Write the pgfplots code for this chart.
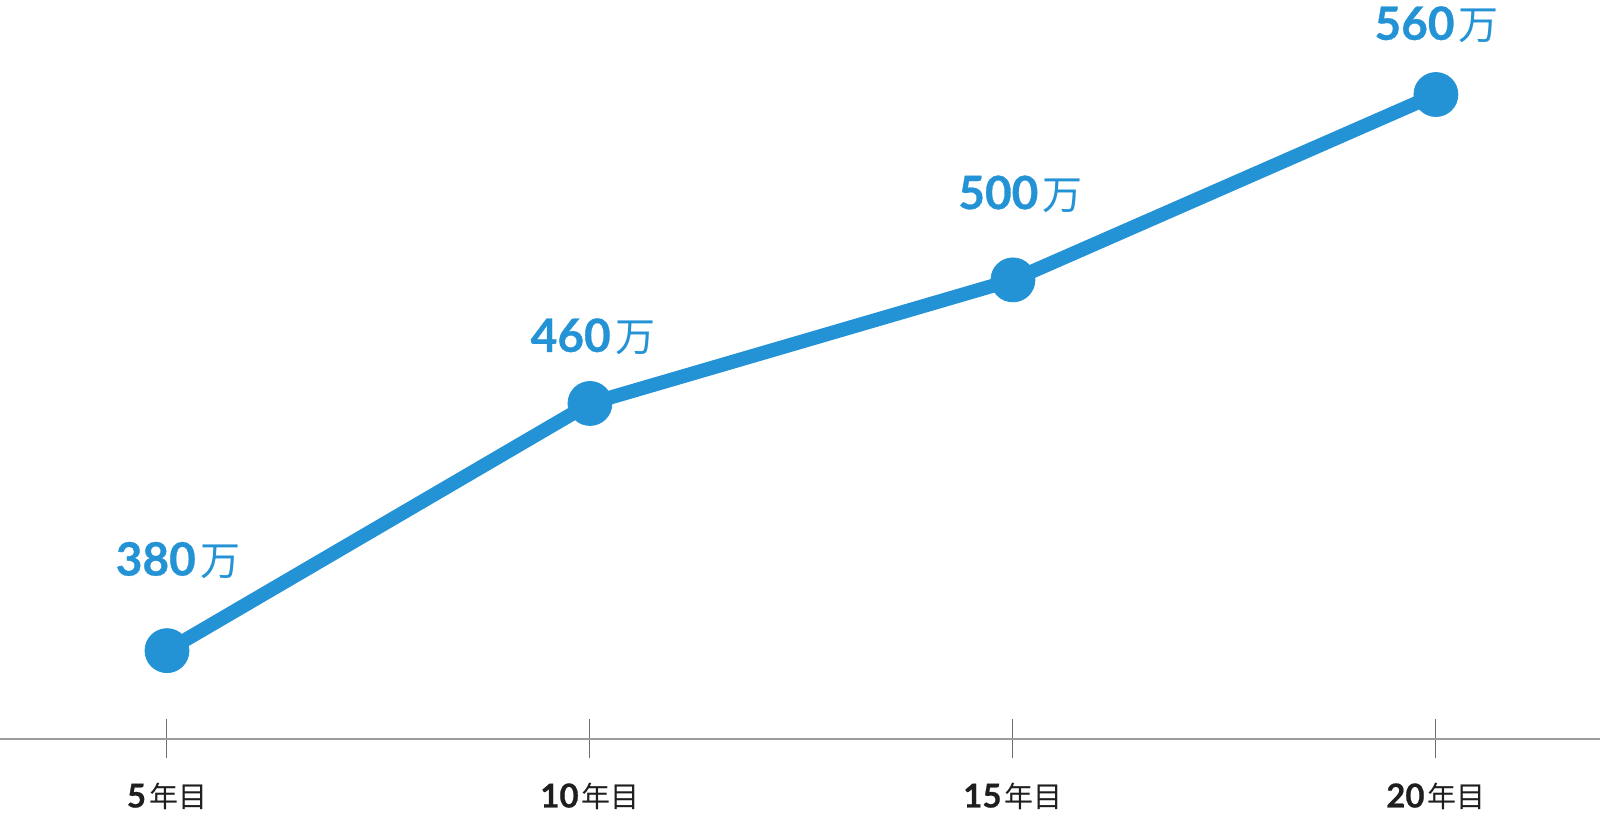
\documentclass[border=0pt]{standalone}
\usepackage{fontspec}
\setmainfont{Lato}
\newfontfamily\numheavy{Lato}[BoldFeatures={FakeBold=0.6}]
\newfontfamily\cjk{Noto Sans CJK JP}
\usepackage{pgfplots}
\pgfplotsset{compat=1.18}
\definecolor{lineblue}{HTML}{2393D6}
\definecolor{axisgray}{HTML}{9C9C9C}
\definecolor{tickgray}{HTML}{6E6E6E}
\definecolor{labeldark}{HTML}{1E1E1E}

% value label: bold number + 万
\newcommand{\man}[1]{{\numheavy\fontsize{23}{23}\selectfont\bfseries #1}\hspace{0.22em}{\cjk\fontsize{20}{20}\selectfont 万}}
\newcommand{\nen}[1]{{\numheavy\fontsize{16.5}{16.5}\selectfont\bfseries #1}\hspace{0.15em}{\cjk\fontsize{14.5}{14.5}\selectfont 年目}}

\begin{document}
\begin{tikzpicture}
\begin{axis}[
  scale only axis,
  width=800pt, height=369.5pt,
  xmin=3.026, xmax=21.94,
  ymin=351.4, ymax=590.6,
  axis x line*=bottom,
  hide y axis,
  axis line style={draw=axisgray, line width=0.85pt, -},
  xtick={5,10,15,20},
  xticklabels={\nen{5},\nen{10},\nen{15},\nen{20}},
  xticklabel style={anchor=base, yshift=-24.5pt, text=labeldark},
  major tick length=19.5pt,
  tick align=center,
  tick style={draw=tickgray, line width=0.5pt},
  clip=false,
]
\addplot[lineblue, line width=7pt, mark=*, mark size=11pt,
  mark options={fill=lineblue, draw=lineblue, line width=0.4pt}]
  coordinates {(5,380) (10,460) (15,500) (20,560)};

\node[anchor=base, text=lineblue, inner sep=0pt] at (axis cs:5.13,404.3) {\man{380}};
\node[anchor=base, text=lineblue, inner sep=0pt] at (axis cs:10.035,476.7) {\man{460}};
\node[anchor=base, text=lineblue, inner sep=0pt] at (axis cs:15.09,522.9) {\man{500}};
\node[anchor=base, text=lineblue, inner sep=0pt] at (axis cs:20.01,577.7) {\man{560}};

\coordinate (tl) at (rel axis cs:0,1);
\coordinate (br) at (rel axis cs:1,0);
\end{axis}
\pgfresetboundingbox
\path (tl) rectangle ([yshift=-49pt]br);
\end{tikzpicture}
\end{document}
